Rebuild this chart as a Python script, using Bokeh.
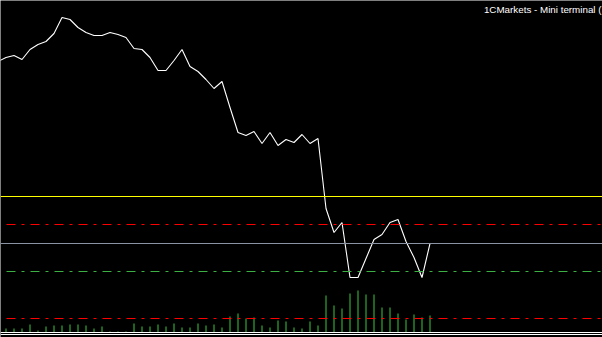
from bokeh.plotting import figure
from bokeh.models import Range1d, Span, Label
from bokeh.embed import file_html
from bokeh.resources import INLINE

# ---- data (bar index, close price, tick volume) ----
bar_index = list(range(-1, 54))
close = [1.08639,
         1.08643, 1.08645, 1.08641, 1.08651, 1.08656, 1.08659, 1.08667, 1.08683, 1.08681, 1.08673,
         1.08668, 1.08665, 1.08665, 1.08668, 1.08666, 1.08663, 1.08652, 1.08651, 1.08643, 1.08630,
         1.08630, 1.08640, 1.08651, 1.08634, 1.08629, 1.08621, 1.08612, 1.08619, 1.08593, 1.08568,
         1.08565, 1.08569, 1.08557, 1.08568, 1.08555, 1.08561, 1.08558, 1.08566, 1.08557, 1.08562,
         1.08492, 1.08468, 1.08478, 1.08423, 1.08423, 1.08442, 1.08461, 1.08466, 1.08478, 1.08481,
         1.08459, 1.08443, 1.08423, 1.08457]
vol_index = list(range(0, 54))
volume = [4, 4, 4, 8, 2, 6, 7, 7, 8, 8,
          7, 4, 6, 1, 1, 1, 9, 6, 6, 8,
          6, 9, 5, 5, 9, 7, 8, 5, 16, 19,
          14, 15, 7, 5, 12, 11, 5, 4, 11, 7,
          37, 27, 24, 39, 42, 38, 38, 25, 25, 19,
          13, 18, 15, 17]
entry_level = 1.08504
red_level = 1.08476
green_level = 1.08429
low_red_level = 1.08382
bid_level = close[-1]
title_text = "1CMarkets - Mini terminal ("

W, H = 602, 337
p = figure(width=W, height=H, output_backend="svg", toolbar_location=None,
           x_axis_location=None, y_axis_location=None, min_border=0,
           background_fill_color="black", border_fill_color="black",
           outline_line_color=None)
p.x_range = Range1d(-5.5 / 8, -5.5 / 8 + W / 8)
p.y_range = Range1d(1.08700 - H * 1e-5, 1.08700)
p.extra_y_ranges = {"vol": Range1d(-5, 332)}
p.xgrid.visible = False
p.ygrid.visible = False

# volume bars
p.vbar(x=vol_index, top=volume, bottom=0, width=1 / 8, y_range_name="vol",
       fill_color="#3cc83c", line_color=None)

# level lines
p.add_layout(Span(location=entry_level, dimension="width", line_color="#ffff00", line_width=1))
for lvl, col in [(red_level, "#ff0000"), (low_red_level, "#ff0000"), (green_level, "#3cb043")]:
    p.add_layout(Span(location=lvl, dimension="width", line_color=col, line_width=1,
                      line_dash="9 6 3 6", line_dash_offset=18))
p.add_layout(Span(location=bid_level, dimension="width", line_color="#8a93a3", line_width=1))

# bottom border lines
for loc in (0, -2):
    p.add_layout(Span(location=loc, dimension="width", y_range_name="vol",
                      line_color="white", line_width=1))

# price line
p.line(bar_index, close, line_color="white", line_width=1.1)

p.add_layout(Label(x=601, y=H - 8.5, x_units="screen", y_units="screen", text=title_text,
                   text_color="white", text_font="Liberation Sans", text_font_size="9.8px",
                   text_align="right", text_baseline="alphabetic"))

open("out.html", "w").write(file_html(p, INLINE))
